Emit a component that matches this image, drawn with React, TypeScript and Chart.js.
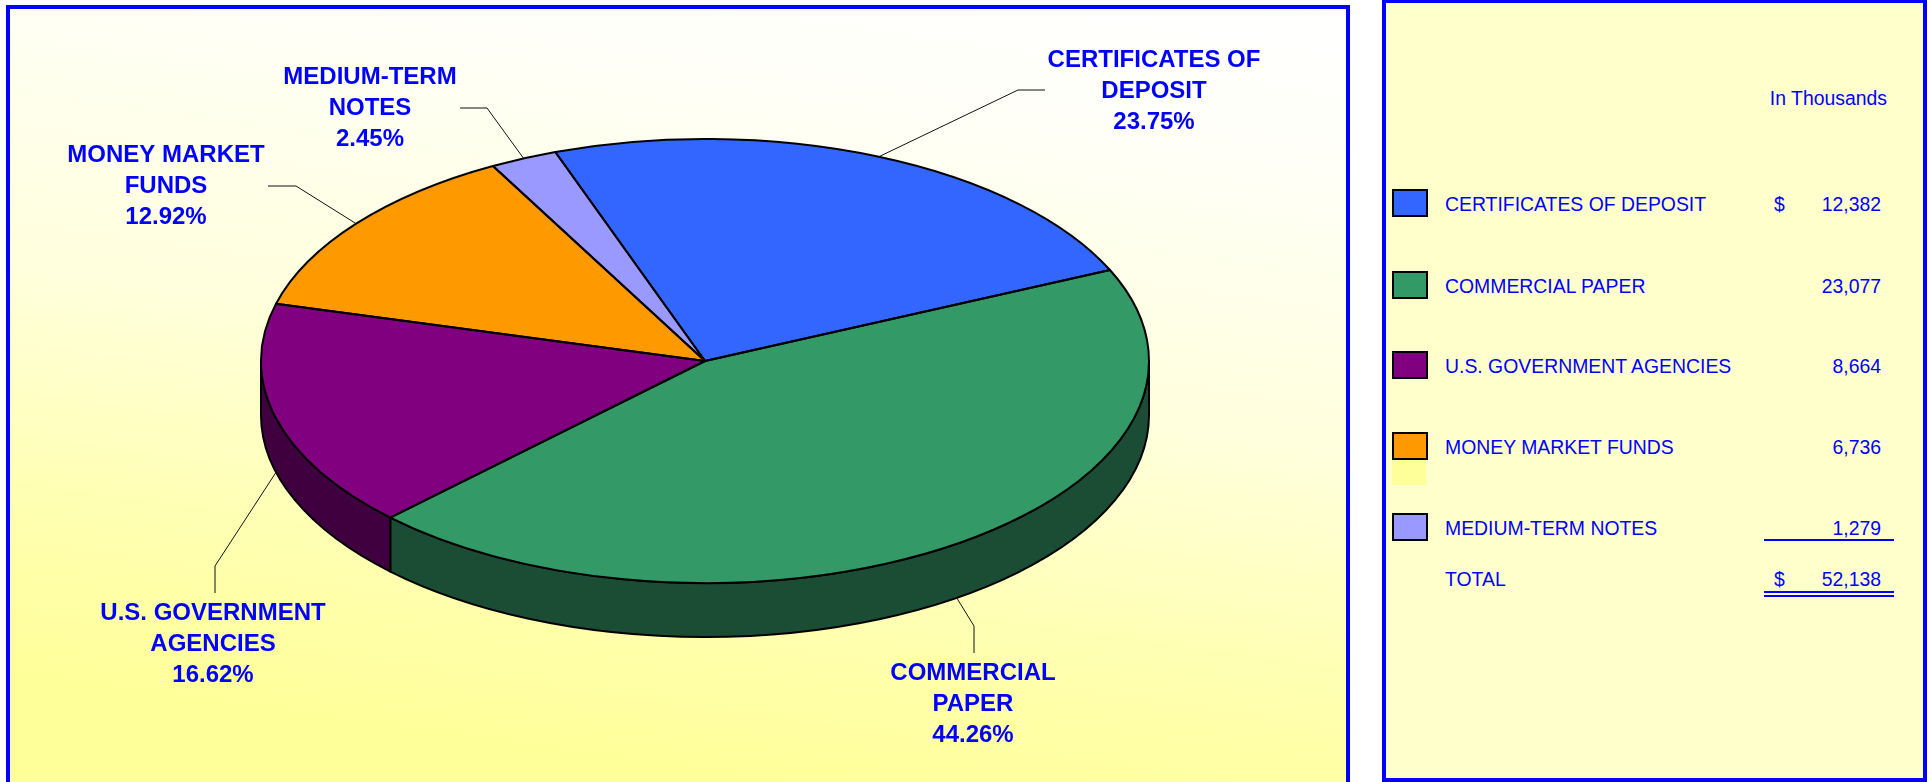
import React, { useEffect, useRef } from "react";
import { Chart, registerables } from "chart.js";

Chart.register(...registerables);

// ---------- data ----------
const CATEGORIES = [
  "CERTIFICATES OF DEPOSIT",
  "COMMERCIAL PAPER",
  "U.S. GOVERNMENT AGENCIES",
  "MONEY MARKET FUNDS",
  "MEDIUM-TERM NOTES",
];
const LABEL_LINES = [
  ["CERTIFICATES OF", "DEPOSIT"],
  ["COMMERCIAL", "PAPER"],
  ["U.S. GOVERNMENT", "AGENCIES"],
  ["MONEY MARKET", "FUNDS"],
  ["MEDIUM-TERM", "NOTES"],
];
const VALUES = [12382, 23077, 8664, 6736, 1279];
const COLORS = ["#3366FF", "#339966", "#800080", "#FF9900", "#9999FF"];
const SIDE_COLORS = ["#1A3380", "#1A4D33", "#400040", "#804D00", "#4D4D80"];
const UNITS_LABEL = "In Thousands";
const TOTAL_LABEL = "TOTAL";

// ---------- layout ----------
const ROTATION_DEG = -19.7;
const PIE_RADIUS = 444;
const TILT = 0.5;
const DEPTH = 54;
const LINE_GAP = 31;
// label anchors in canvas coordinates
const LABEL_LAYOUT = [
  { x: 1144, y: 51, elbow: [1008, 81], end: [1035, 81] },
  { x: 963, y: 664, elbow: [964, 617], end: [964, 644] },
  { x: 203, y: 604, elbow: [205, 557], end: [205, 584] },
  { x: 156, y: 146, elbow: [286, 177], end: [258, 177] },
  { x: 360, y: 68, elbow: [477, 99], end: [450, 99] },
];
const ROW_Y = [204, 286, 366, 447, 528];
const TOTAL_Y = 579;

const FONT = '"Liberation Sans", Arial, Helvetica, sans-serif';
const BLUE = "#0000FF";

const fmt = (v: number) => v.toLocaleString("en-US");

const pie3dPlugin = {
  id: "pie3d",
  beforeDatasetsDraw(chart: any) {
    const ctx: CanvasRenderingContext2D = chart.ctx;
    const arcs = chart.getDatasetMeta(0).data;
    if (!arcs.length) return;
    const cx = arcs[0].x;
    const cy = arcs[0].y;
    const rx = arcs[0].outerRadius;
    const ry = rx * TILT;
    ctx.save();
    ctx.lineWidth = 2;
    ctx.strokeStyle = "#000";
    ctx.lineJoin = "round";
    arcs.forEach((arc: any, i: number) => {
      const s = arc.startAngle;
      const e = arc.endAngle;
      for (let k = -1; k <= 1; k++) {
        const lo = Math.max(s, 2 * Math.PI * k);
        const hi = Math.min(e, Math.PI + 2 * Math.PI * k);
        if (hi > lo) {
          ctx.beginPath();
          ctx.ellipse(cx, cy, rx, ry, 0, lo, hi, false);
          ctx.lineTo(cx + rx * Math.cos(hi), cy + ry * Math.sin(hi) + DEPTH);
          ctx.ellipse(cx, cy + DEPTH, rx, ry, 0, hi, lo, true);
          ctx.closePath();
          ctx.fillStyle = SIDE_COLORS[i];
          ctx.fill();
          ctx.stroke();
        }
      }
    });
    ctx.restore();
    ctx.save();
    ctx.translate(cx, cy);
    ctx.scale(1, TILT);
    ctx.translate(-cx, -cy);
  },
  afterDatasetsDraw(chart: any) {
    const ctx: CanvasRenderingContext2D = chart.ctx;
    ctx.restore();
    const arcs = chart.getDatasetMeta(0).data;
    if (!arcs.length) return;
    const cx = arcs[0].x;
    const cy = arcs[0].y;
    const rx = arcs[0].outerRadius;
    const ry = rx * TILT;
    ctx.save();
    ctx.lineWidth = 2;
    ctx.strokeStyle = "#000";
    ctx.lineJoin = "round";
    arcs.forEach((arc: any) => {
      ctx.beginPath();
      ctx.moveTo(cx, cy);
      ctx.ellipse(cx, cy, rx, ry, 0, arc.startAngle, arc.endAngle, false);
      ctx.closePath();
      ctx.stroke();
    });
    // leader lines
    ctx.lineWidth = 1;
    ctx.strokeStyle = "#111";
    const total = VALUES.reduce((a, b) => a + b, 0);
    arcs.forEach((arc: any, i: number) => {
      const lay = LABEL_LAYOUT[i];
      const m = (arc.startAngle + arc.endAngle) / 2;
      const sy = Math.sin(m);
      const px = cx + rx * Math.cos(m);
      const py = cy + ry * sy + (sy > 0 ? DEPTH : 0);
      ctx.beginPath();
      ctx.moveTo(px, py);
      ctx.lineTo(lay.elbow[0], lay.elbow[1]);
      ctx.lineTo(lay.end[0], lay.end[1]);
      ctx.stroke();
      const lines = [...LABEL_LINES[i], ((VALUES[i] / total) * 100).toFixed(2) + "%"];
      ctx.font = `bold 24px ${FONT}`;
      ctx.fillStyle = BLUE;
      ctx.textAlign = "center";
      ctx.textBaseline = "middle";
      lines.forEach((t, j) => ctx.fillText(t, lay.x, lay.y + j * LINE_GAP));
    });
    ctx.restore();
  },
};

export default function App() {
  const canvasRef = useRef<HTMLCanvasElement>(null);

  useEffect(() => {
    const chart = new Chart(canvasRef.current as HTMLCanvasElement, {
      type: "pie",
      data: {
        labels: CATEGORIES,
        datasets: [
          {
            data: VALUES,
            backgroundColor: COLORS,
            borderWidth: 0,
            clip: false,
          } as any,
        ],
      },
      options: {
        animation: false,
        responsive: false,
        maintainAspectRatio: false,
        devicePixelRatio: 1,
        events: [],
        rotation: ROTATION_DEG,
        radius: PIE_RADIUS,
        layout: { padding: { left: 54, right: 0, top: 0, bottom: 69 } },
        plugins: {
          legend: { display: false },
          tooltip: { enabled: false },
        },
      } as any,
      plugins: [pie3dPlugin as any],
    });
    return () => chart.destroy();
  }, []);

  const total = VALUES.reduce((a, b) => a + b, 0);

  const txt = (left: number, cy: number, content: string, extra: any = {}) => (
    <div
      style={{
        position: "absolute",
        left,
        top: cy - 11,
        height: 22,
        lineHeight: "22px",
        fontSize: 19.4,
        whiteSpace: "nowrap",
        ...extra,
      }}
    >
      {content}
    </div>
  );
  const val = (cy: number, content: string) =>
    txt(1781, cy, content, { width: 100, textAlign: "right" });

  return (
    <div
      style={{
        position: "absolute",
        left: 0,
        top: 0,
        width: 1931,
        height: 782,
        overflow: "hidden",
        fontFamily: FONT,
        color: BLUE,
      }}
    >
      <div
        style={{
          position: "absolute",
          left: 6,
          top: 5,
          width: 1344,
          height: 800,
          boxSizing: "border-box",
          border: `4px solid ${BLUE}`,
          background:
            "linear-gradient(188deg, #FFFFFF 0%, #FFFFF8 15%, #FFFFDD 45%, #FFFFB0 70%, #FFFF99 88%)",
        }}
      />
      <canvas
        ref={canvasRef}
        width={1336}
        height={773}
        style={{ position: "absolute", left: 10, top: 9, width: 1336, height: 773 }}
      />
      <div
        style={{
          position: "absolute",
          left: 1382,
          top: -1,
          width: 545,
          height: 783,
          boxSizing: "border-box",
          border: `4px solid ${BLUE}`,
          background: "#FFFFCC",
        }}
      />
      {txt(1700, 98, UNITS_LABEL, { width: 187, textAlign: "right" })}
      {CATEGORIES.map((cat, i) => (
        <React.Fragment key={cat}>
          <div
            style={{
              position: "absolute",
              left: 1392,
              top: ROW_Y[i] - 15,
              width: 36,
              height: 28,
              boxSizing: "border-box",
              border: "2px solid #000",
              background: COLORS[i],
            }}
          />
          {txt(1445, ROW_Y[i], cat)}
          {i === 0 ? txt(1774, ROW_Y[i], "$") : null}
          {val(ROW_Y[i], fmt(VALUES[i]))}
        </React.Fragment>
      ))}
      <div
        style={{
          position: "absolute",
          left: 1392,
          top: 460,
          width: 34,
          height: 25,
          background: "#FFFF99",
        }}
      />
      <div style={{ position: "absolute", left: 1764, top: 539, width: 130, height: 2, background: BLUE }} />
      {txt(1445, TOTAL_Y, TOTAL_LABEL)}
      {txt(1774, TOTAL_Y, "$")}
      {val(TOTAL_Y, fmt(total))}
      <div style={{ position: "absolute", left: 1764, top: 591, width: 130, height: 2, background: BLUE }} />
      <div style={{ position: "absolute", left: 1764, top: 595, width: 130, height: 2, background: BLUE }} />
    </div>
  );
}
